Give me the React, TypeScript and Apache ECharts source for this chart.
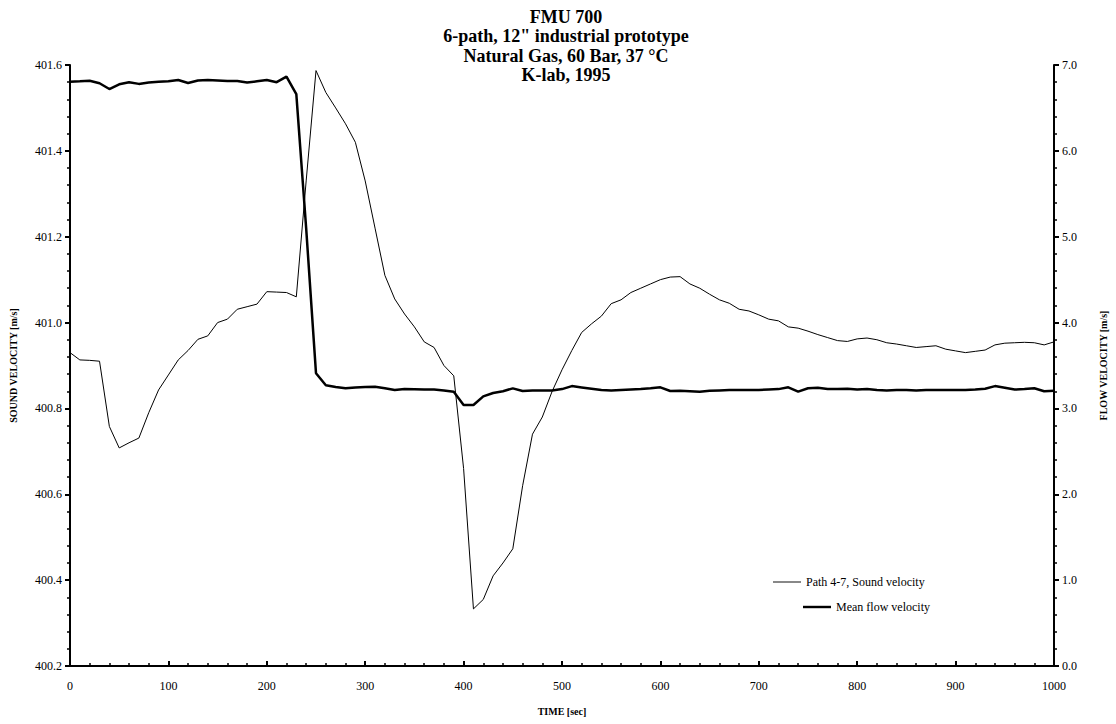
import React, { useEffect, useRef } from "react";
import * as echarts from "echarts";

const titleLines = ["FMU 700", "6-path, 12\" industrial prototype", "Natural Gas, 60 Bar, 37 °C", "K-lab, 1995"];

const timeSec = [
  0, 10, 20, 30, 40, 50, 60, 70, 80, 90,
  100, 110, 120, 130, 140, 150, 160, 170, 180, 190,
  200, 210, 220, 230, 240, 250, 260, 270, 280, 290,
  300, 310, 320, 330, 340, 350, 360, 370, 380, 390,
  400, 410, 420, 430, 440, 450, 460, 470, 480, 490,
  500, 510, 520, 530, 540, 550, 560, 570, 580, 590,
  600, 610, 620, 630, 640, 650, 660, 670, 680, 690,
  700, 710, 720, 730, 740, 750, 760, 770, 780, 790,
  800, 810, 820, 830, 840, 850, 860, 870, 880, 890,
  900, 910, 920, 930, 940, 950, 960, 970, 980, 990,
  1000,
];

const soundVelocity = [
  400.93, 400.913, 400.912, 400.91, 400.758, 400.708, 400.72, 400.731, 400.79, 400.843,
  400.878, 400.913, 400.935, 400.961, 400.969, 401.0, 401.008, 401.031, 401.037, 401.043,
  401.072, 401.071, 401.07, 401.06, 401.33, 401.587, 401.536, 401.5, 401.463, 401.42,
  401.33, 401.22, 401.11, 401.055, 401.02, 400.99, 400.955, 400.942, 400.9, 400.876,
  400.66, 400.333, 400.355, 400.41, 400.44, 400.473, 400.62, 400.74, 400.78, 400.84,
  400.89, 400.935, 400.977, 400.997, 401.015, 401.044, 401.053, 401.07, 401.08, 401.09,
  401.1, 401.106, 401.107, 401.09, 401.08, 401.066, 401.053, 401.045, 401.031, 401.027,
  401.018, 401.008, 401.004, 400.99, 400.987, 400.98, 400.972, 400.965, 400.958, 400.956,
  400.962, 400.964, 400.96, 400.953, 400.95, 400.946, 400.942, 400.944, 400.946, 400.938,
  400.934, 400.93, 400.933, 400.936, 400.948, 400.952, 400.953, 400.954, 400.953, 400.948,
  400.955,
];

const flowVelocity = [
  6.805, 6.81, 6.817, 6.787, 6.72, 6.775, 6.8, 6.78, 6.795, 6.805,
  6.81, 6.825, 6.79, 6.82, 6.825, 6.82, 6.815, 6.813, 6.795, 6.81,
  6.825, 6.8, 6.864, 6.66, 5.1, 3.41, 3.27, 3.25, 3.234, 3.245,
  3.25, 3.253, 3.235, 3.215, 3.225, 3.223, 3.22, 3.22, 3.21, 3.195,
  3.04, 3.04, 3.14, 3.18, 3.2, 3.234, 3.203, 3.21, 3.21, 3.21,
  3.225, 3.26, 3.245, 3.23, 3.215, 3.21, 3.215, 3.22, 3.225, 3.235,
  3.246, 3.203, 3.205, 3.2, 3.195, 3.205, 3.21, 3.215, 3.215, 3.215,
  3.215, 3.22, 3.225, 3.246, 3.195, 3.235, 3.24, 3.225, 3.225, 3.23,
  3.22, 3.225, 3.215, 3.21, 3.215, 3.215, 3.21, 3.215, 3.215, 3.215,
  3.215, 3.215, 3.22, 3.23, 3.26, 3.24, 3.22, 3.225, 3.235, 3.2,
  3.205,
];

const seriesNames = ["Path 4-7, Sound velocity", "Mean flow velocity"];
const axisNames = { x: "TIME [sec]", left: "SOUND VELOCITY [m/s]", right: "FLOW VELOCITY [m/s]" };

const FONT = "'Liberation Serif', 'DejaVu Serif', serif";

export default function App() {
  const ref = useRef<HTMLDivElement>(null);
  useEffect(() => {
    document.body.style.margin = "0";
    if (!ref.current) return;
    const chart = echarts.init(ref.current, undefined, { renderer: "svg" });
    const axisLine = { show: true, lineStyle: { color: "#000", width: 2 } };
    const axisLabel = { color: "#000", fontFamily: FONT, fontSize: 12 };
    const legendText = { fontFamily: FONT, fontSize: 12, color: "#000" };
    chart.setOption({
      animation: false,
      backgroundColor: "#fff",
      title: {
        text: titleLines.join("\n"),
        left: 561,
        textAlign: "center",
        top: 2,
        textStyle: { fontFamily: FONT, fontWeight: "bold", fontSize: 18, lineHeight: 19.5, color: "#000" },
      },
      legend: [
        {
          left: 768,
          top: 571,
          itemWidth: 28,
          itemHeight: 10,
          textStyle: legendText,
          data: [{ name: seriesNames[0], icon: "path://M0,0 H30 V1 H0 Z" }],
        },
        {
          left: 798,
          top: 596,
          itemWidth: 28,
          itemHeight: 10,
          textStyle: legendText,
          data: [{ name: seriesNames[1], icon: "path://M0,0 H30 V2.6 H0 Z" }],
        },
      ],
      grid: { left: 63, right: 57, top: 65, bottom: 58, containLabel: false },
      xAxis: {
        type: "value",
        min: 0,
        max: 1000,
        interval: 100,
        name: axisNames.x,
        nameLocation: "middle",
        nameGap: 40,
        nameTextStyle: { fontFamily: FONT, fontWeight: "bold", fontSize: 10, color: "#000" },
        axisLine,
        axisTick: { show: true, inside: true, length: 5, lineStyle: { color: "#000", width: 2 } },
        minorTick: { show: true, splitNumber: 5, length: 3, lineStyle: { color: "#000", width: 1.5 } },
        splitLine: { show: false },
        axisLabel: { ...axisLabel, margin: 14, formatter: (v: number) => String(v) },
      },
      yAxis: [
        {
          type: "value",
          min: 400.2,
          max: 401.6,
          interval: 0.2,
          name: axisNames.left,
          nameLocation: "middle",
          nameRotate: 90,
          nameGap: 52,
          nameTextStyle: { fontFamily: FONT, fontWeight: "bold", fontSize: 10, color: "#000" },
          axisLine,
          axisTick: { show: true, length: 5, lineStyle: { color: "#000", width: 2 } },
          minorTick: { show: true, splitNumber: 5, length: 3, lineStyle: { color: "#000", width: 1.5 } },
          splitLine: { show: false },
          axisLabel: { ...axisLabel, margin: 8, formatter: (v: number) => v.toFixed(1) },
        },
        {
          type: "value",
          min: 0,
          max: 7,
          interval: 1,
          position: "right",
          name: axisNames.right,
          nameLocation: "middle",
          nameRotate: 90,
          nameGap: 44,
          nameTextStyle: { fontFamily: FONT, fontWeight: "bold", fontSize: 10, color: "#000" },
          axisLine,
          axisTick: { show: true, length: 5, lineStyle: { color: "#000", width: 2 } },
          minorTick: { show: true, splitNumber: 5, length: 3, lineStyle: { color: "#000", width: 1.5 } },
          splitLine: { show: false },
          axisLabel: { ...axisLabel, margin: 8, formatter: (v: number) => v.toFixed(1) },
        },
      ],
      series: [
        {
          name: seriesNames[0],
          type: "line",
          yAxisIndex: 0,
          symbol: "none",
          lineStyle: { color: "#000", width: 1 },
          itemStyle: { color: "#000" },
          data: timeSec.map((t, i) => [t, soundVelocity[i]]),
        },
        {
          name: seriesNames[1],
          type: "line",
          yAxisIndex: 1,
          symbol: "none",
          lineStyle: { color: "#000", width: 2.5 },
          itemStyle: { color: "#000" },
          data: timeSec.map((t, i) => [t, flowVelocity[i]]),
        },
      ],
    });
    return () => chart.dispose();
  }, []);
  return <div ref={ref} style={{ width: 1116, height: 724 }} />;
}
